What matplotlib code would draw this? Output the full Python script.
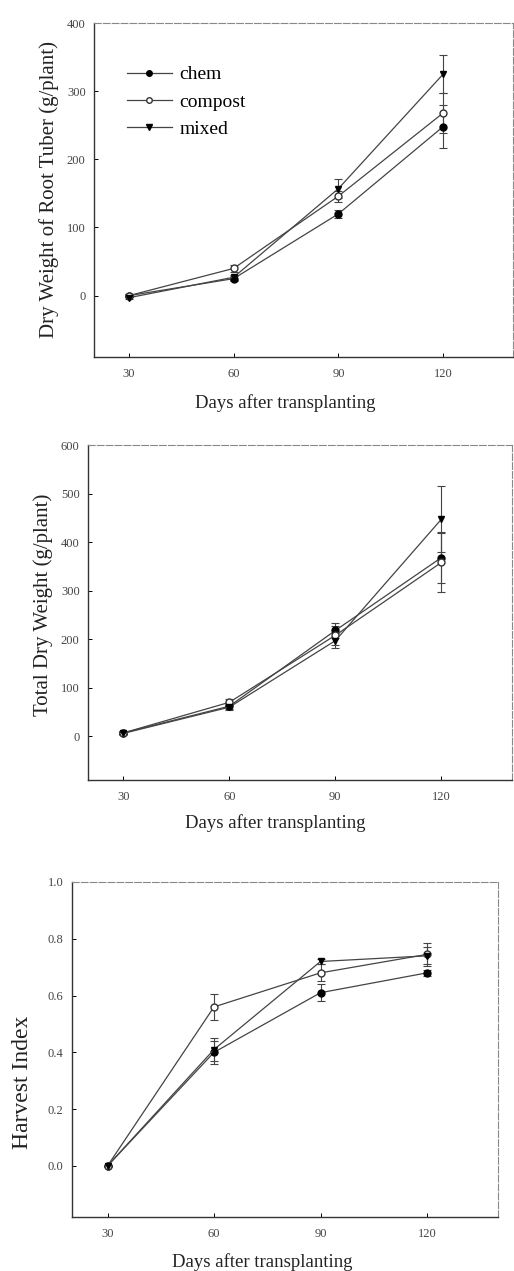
import matplotlib
matplotlib.use('Agg')
import matplotlib.pyplot as plt

plt.rcParams['font.family'] = ['Liberation Serif', 'DejaVu Serif']

days = [30, 60, 90, 120]
series = ['chem', 'compost', 'mixed']

# root tuber dry weight (g/plant)
root_chem = [0, 25, 120, 248]
root_chem_err = [2, 4, 6, 32]
root_compost = [0, 40, 146, 268]
root_compost_err = [2, 5, 8, 30]
root_mixed = [-3, 27, 157, 325]
root_mixed_err = [2, 4, 14, 28]

# total dry weight (g/plant)
total_chem = [7, 62, 218, 368]
total_chem_err = [3, 6, 15, 52]
total_compost = [7, 70, 208, 358]
total_compost_err = [3, 6, 20, 60]
total_mixed = [6, 60, 197, 447]
total_mixed_err = [3, 6, 15, 68]

# harvest index
hi_chem = [0.0, 0.40, 0.61, 0.68]
hi_chem_err = [0.0, 0.04, 0.03, 0.01]
hi_compost = [0.0, 0.56, 0.68, 0.745]
hi_compost_err = [0.0, 0.045, 0.03, 0.04]
hi_mixed = [0.0, 0.41, 0.72, 0.74]
hi_mixed_err = [0.0, 0.04, 0.01, 0.03]

W, H = 514, 1271
fig = plt.figure(figsize=(W / 100, H / 100), dpi=100)


def px_axes(left, top, right, bottom):
    return fig.add_axes([left / W, 1 - bottom / H, (right - left) / W, (bottom - top) / H])


styles = {
    'chem': dict(marker='o', mfc='black', mec='black'),
    'compost': dict(marker='o', mfc='white', mec='#333333'),
    'mixed': dict(marker='v', mfc='black', mec='black'),
}


def draw(ax, data, yticks, ylim, ylabel, ylab_pos, ylab_size, xlab_pos, fmt):
    conts = []
    for name, vals, errs in data:
        c = ax.errorbar(days, vals, yerr=errs, color='#444444', lw=0.9, ms=5,
                        capsize=3, elinewidth=0.8, capthick=0.8, label=name, **styles[name])
        conts.append(c)
    ax.set_xlim(20, 140)
    ax.set_ylim(*ylim)
    ax.set_xticks(days)
    ax.set_yticks(yticks)
    ax.set_yticklabels([fmt.format(v) for v in yticks])
    ax.tick_params(labelsize=9, labelcolor='#444444', length=3, width=0.7, direction='in')
    ax.tick_params(axis='x', pad=8)
    ax.tick_params(axis='y', pad=6)
    for s in ['left', 'bottom']:
        ax.spines[s].set_color('#333333')
        ax.spines[s].set_linewidth(1.0)
    for s in ['top', 'right']:
        ax.spines[s].set_color('#888888')
        ax.spines[s].set_linewidth(0.8)
        ax.spines[s].set_linestyle((0, (6, 2)))
    fig.text(ylab_pos[0] / W, 1 - ylab_pos[1] / H, ylabel, rotation=90, ha='center',
             va='center', fontsize=ylab_size, color='#222222')
    fig.text(xlab_pos[0] / W, 1 - xlab_pos[1] / H, 'Days after transplanting', ha='center',
             va='center', fontsize=13.5, color='#222222')
    return conts


ax1 = px_axes(94, 23, 513, 357)
c1 = draw(ax1, [('chem', root_chem, root_chem_err), ('compost', root_compost, root_compost_err),
                ('mixed', root_mixed, root_mixed_err)],
          [0, 100, 200, 300, 400], (-90, 400), 'Dry Weight of Root Tuber (g/plant)',
          (49, 189), 15, (285, 403), '{:.0f}')
ax1.legend([c[0] for c in c1], series, loc='upper left', bbox_to_anchor=(0.06, 0.895),
           frameon=False, fontsize=14, handlelength=2.3, handletextpad=0.4,
           labelspacing=0.5, borderaxespad=0, markerscale=0.8)

ax2 = px_axes(88, 445, 512, 780)
draw(ax2, [('chem', total_chem, total_chem_err), ('compost', total_compost, total_compost_err),
           ('mixed', total_mixed, total_mixed_err)],
     [0, 100, 200, 300, 400, 500, 600], (-90, 600), 'Total Dry Weight (g/plant)',
     (43, 605), 15, (275, 823), '{:.0f}')

ax3 = px_axes(72, 882, 498, 1217)
draw(ax3, [('chem', hi_chem, hi_chem_err), ('compost', hi_compost, hi_compost_err),
           ('mixed', hi_mixed, hi_mixed_err)],
     [0.0, 0.2, 0.4, 0.6, 0.8, 1.0], (-0.18, 1.0), 'Harvest Index',
     (23, 1082), 17, (262, 1262), '{:.1f}')

fig.savefig('out.png', dpi=100)
